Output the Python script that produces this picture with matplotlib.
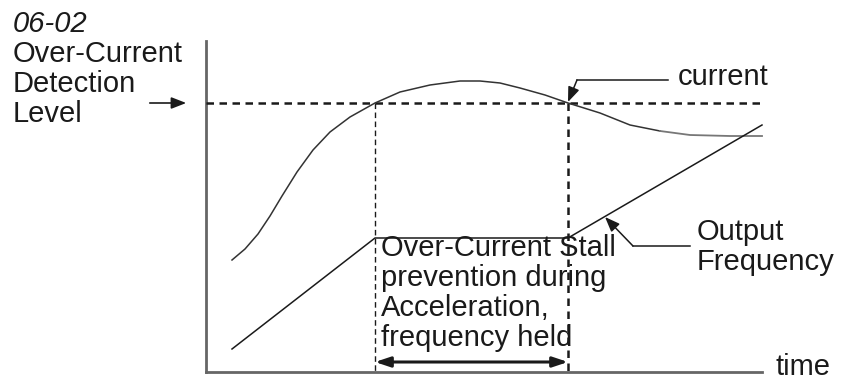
import matplotlib.pyplot as plt

# values (x = time, y = level, screen-like units, y down)
current_t = [232, 245, 258, 270, 282, 297, 313, 330, 350, 375, 400, 430, 460, 480, 500, 520, 545, 568, 600, 630, 660, 690, 730, 762]
current_v = [260, 249, 234, 216, 196, 172, 150, 132, 117, 103, 92, 85, 81, 81, 83, 88, 95, 103, 113, 125, 131, 135, 136, 136]
freq_t = [232, 375, 568, 762]
freq_v = [349, 238, 238, 125]
oc_level = 103
stall_start, stall_end = 375, 568
t_end = 762

ink = '#1a1a1a'
font = ['Liberation Sans', 'DejaVu Sans']
fs = 21

fig = plt.figure(figsize=(8.43, 3.81), dpi=100)
ax = fig.add_axes([0, 0, 1, 1])
ax.set_xlim(0, 843)
ax.set_ylim(381, 0)
ax.axis('off')

# axes of the diagram
ax.plot([206, 206], [41, 372], color='#666666', lw=2)
ax.plot([206, t_end], [372, 372], color='#666666', lw=2)

# detection level and stall window
ax.plot([206, t_end], [oc_level, oc_level], color=ink, lw=1.8, ls=(0, (3, 2.2)))
ax.plot([stall_start, stall_start], [oc_level, 372], color=ink, lw=1, ls=(0, (4, 2.5)))
ax.plot([stall_end, stall_end], [oc_level, 372], color=ink, lw=1.8, ls=(0, (3, 2.2)))

# curves
ax.plot(current_t[:21], current_v[:21], color='#333333', lw=1.1)
ax.plot(current_t[20:], current_v[20:], color='#777777', lw=1.3)
ax.plot(freq_t, freq_v, color=ink, lw=1.1)

# arrows
ax.annotate('', xy=(189, oc_level), xytext=(147, oc_level),
            arrowprops=dict(arrowstyle='-|>,head_length=0.9,head_width=0.35', color=ink, lw=1.2))
ax.annotate('', xy=(stall_start, 362), xytext=(stall_end, 362),
            arrowprops=dict(arrowstyle='<|-|>,head_length=0.9,head_width=0.3', color=ink, lw=2.2,
                            shrinkA=0, shrinkB=0))
ax.plot([668, 577], [80, 80], color=ink, lw=1.1)
ax.annotate('', xy=(stall_end, oc_level - 1), xytext=(577, 80),
            arrowprops=dict(arrowstyle='-|>,head_length=0.9,head_width=0.35', color=ink, lw=1.1,
                            shrinkA=0, shrinkB=0))
ax.plot([690, 633], [246, 246], color=ink, lw=1.1)
ax.annotate('', xy=(605, 217), xytext=(633, 246),
            arrowprops=dict(arrowstyle='-|>,head_length=0.9,head_width=0.35', color=ink, lw=1.1,
                            shrinkA=0, shrinkB=0))

# text
ax.text(13, 24, '06-02', fontsize=fs, style='italic', family=font, color=ink, va='center')
ax.text(13, 84, 'Over-Current\nDetection\nLevel', fontsize=fs, family=font, color=ink,
        va='center', linespacing=1.07)
ax.text(381, 293, 'Over-Current Stall\nprevention during\nAcceleration,\nfrequency held',
        fontsize=fs, family=font, color=ink, va='center', linespacing=1.1)
ax.text(678, 77, 'current', fontsize=fs, family=font, color=ink, va='center')
ax.text(697, 247, 'Output\nFrequency', fontsize=fs, family=font, color=ink, va='center',
        linespacing=1.07)
ax.text(775, 367, 'time', fontsize=fs, family=font, color=ink, va='center')

fig.savefig('out.png', dpi=100)
